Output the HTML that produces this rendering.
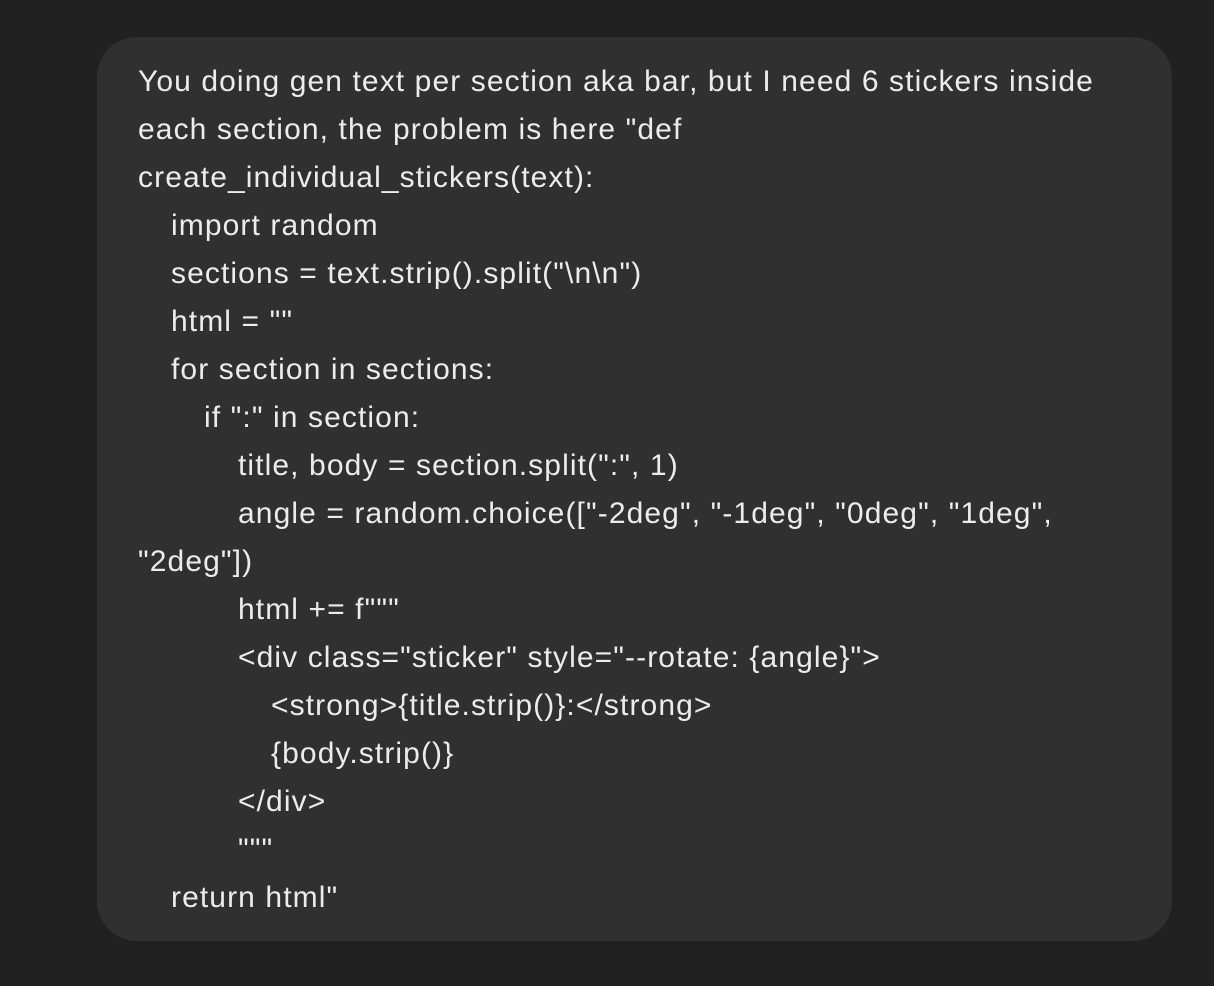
<!DOCTYPE html>
<html><head><meta charset="utf-8"><style>
html,body{margin:0;padding:0;background:#212121;width:1214px;height:986px;overflow:hidden}
.b{position:absolute;left:97px;top:37px;width:1075px;height:904px;background:#303030;border-radius:40px}
.t{position:absolute;left:138px;top:58px;font-family:"Liberation Sans",Arial,sans-serif;font-size:30px;line-height:48px;color:#ececec;white-space:pre;letter-spacing:1.1px}
.t div{height:48px}
.i1{padding-left:33px}.i2{padding-left:66px}.i3{padding-left:100px}.i4{padding-left:133px}
</style></head><body>
<div class="b"></div>
<div class="t"><div>You doing gen text per section aka bar, but I need 6 stickers inside</div><div>each section, the problem is here "def</div><div>create_individual_stickers(text):</div><div class="i1">import random</div><div class="i1">sections = text.strip().split("\n\n")</div><div class="i1">html = ""</div><div class="i1">for section in sections:</div><div class="i2">if ":" in section:</div><div class="i3">title, body = section.split(":", 1)</div><div class="i3">angle = random.choice(["-2deg", "-1deg", "0deg", "1deg",</div><div>"2deg"])</div><div class="i3">html += f"""</div><div class="i3">&lt;div class="sticker" style="--rotate: {angle}"&gt;</div><div class="i4">&lt;strong&gt;{title.strip()}:&lt;/strong&gt;</div><div class="i4">{body.strip()}</div><div class="i3">&lt;/div&gt;</div><div class="i3">"""</div><div class="i1">return html"</div></div>
</body></html>
